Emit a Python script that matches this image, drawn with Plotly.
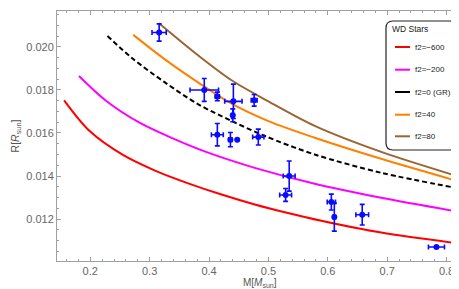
import plotly.graph_objects as go

# ---------------- data ----------------
# observed white dwarfs
obs_M = [0.316, 0.392, 0.414, 0.441, 0.440, 0.476, 0.414, 0.436, 0.4475, 0.483,
         0.535, 0.529, 0.606, 0.611, 0.658, 0.783]
obs_R = [0.02067, 0.0180, 0.0177, 0.01747, 0.01682, 0.01752, 0.01592, 0.01569, 0.01569, 0.01581,
         0.0140, 0.01312, 0.01279, 0.01209, 0.0122, 0.0107]
obs_dM = [0.012, 0.024, 0.0035, 0.0146, 0.002, 0.005, 0.010, 0.003, 0.0, 0.0095,
          0.010, 0.010, 0.007, 0.002, 0.0107, 0.0135]
obs_dR = [0.0004, 0.00053, 0.0002, 0.0008, 0.0003, 0.00027, 0.00052, 0.00033, 0.0, 0.00037,
          0.0007, 0.0003, 0.00037, 0.00065, 0.00048, 0.00003]

# theoretical mass-radius curves
m600 = [0.156, 0.199, 0.255, 0.311, 0.365, 0.421, 0.477, 0.533, 0.589, 0.690, 0.811]
r600 = [0.01752, 0.01609, 0.01498, 0.01423, 0.01366, 0.01314, 0.01268, 0.01228, 0.01192, 0.01137, 0.0109]
m200 = [0.181, 0.227, 0.283, 0.339, 0.395, 0.477, 0.578, 0.690, 0.814]
r200 = [0.01865, 0.01749, 0.01648, 0.01575, 0.01512, 0.01438, 0.01364, 0.01299, 0.01237]
mGR = [0.229, 0.2695, 0.3257, 0.382, 0.438, 0.494, 0.578, 0.690, 0.814]
rGR = [0.02051, 0.0195, 0.01835, 0.01733, 0.01656, 0.01586, 0.0150, 0.01415, 0.01346]
m40 = [0.2724, 0.3257, 0.382, 0.438, 0.500, 0.578, 0.690, 0.814]
r40 = [0.02056, 0.01942, 0.01834, 0.01736, 0.01655, 0.01578, 0.0148, 0.0138]
m80 = [0.3157, 0.382, 0.438, 0.500, 0.578, 0.690, 0.814]
r80 = [0.0211, 0.01960, 0.01845, 0.01747, 0.01633, 0.01512, 0.01403]

curve_names = ["f2=\u2212600", "f2=\u2212200", "f2=0 (GR)", "f2=40", "f2=80"]
curve_colors = ["#ff0000", "#ff00ff", "#000000", "#ff8000", "#996633"]
curve_dash = ["solid", "solid", "5px,3px", "solid", "solid"]
curves = [(m600, r600), (m200, r200), (mGR, rGR), (m40, r40), (m80, r80)]
legend_title = "WD Stars"
x_title = "M[<i>M</i><sub>sun</sub>]"
y_title = "R[<i>R</i><sub>sun</sub>]"

x_ticks = [0.2, 0.3, 0.4, 0.5, 0.6, 0.7, 0.8]
y_ticks = [0.012, 0.014, 0.016, 0.018, 0.020]

# ---------------- figure ----------------
W, H = 459, 289
ML, MR, MT, MB = 49, 5, 3, 36
PW, PH = W - ML - MR, H - MT - MB

def px2paper(px, py):
    return (px - ML) / PW, 1 - (py - MT) / PH

fig = go.Figure()
for (m, r), name, col, dash in zip(curves, curve_names, curve_colors, curve_dash):
    fig.add_trace(go.Scatter(x=m, y=r, mode="lines", name=name,
                             line=dict(color=col, width=2, dash=dash, shape="spline", smoothing=0.9),
                             showlegend=False))

fig.add_trace(go.Scatter(
    x=obs_M, y=obs_R, mode="markers", name="WD",
    marker=dict(color="#0a0aff", size=6),
    error_x=dict(type="data", array=obs_dM, color="#0a0aff", thickness=1.6, width=2.5),
    error_y=dict(type="data", array=obs_dR, color="#0a0aff", thickness=1.6, width=2.5),
    showlegend=False))

# legend drawn as a rounded box
bx0, by0 = px2paper(378, 13)
bx1, by1 = px2paper(449, 142)
rx, ry = 7 / PW, 7 / PH
path = (f"M{bx0+rx},{by0} L{bx1-rx},{by0} Q{bx1},{by0} {bx1},{by0-ry} "
        f"L{bx1},{by1+ry} Q{bx1},{by1} {bx1-rx},{by1} "
        f"L{bx0+rx},{by1} Q{bx0},{by1} {bx0},{by1+ry} "
        f"L{bx0},{by0-ry} Q{bx0},{by0} {bx0+rx},{by0} Z")
shapes = [dict(type="path", xref="paper", yref="paper", path=path,
               line=dict(color="#222", width=1.2), fillcolor="white", layer="above")]
annotations = []
tx, ty = px2paper(382, 21)
annotations.append(dict(xref="paper", yref="paper", x=tx, y=ty, text=legend_title,
                        showarrow=False, xanchor="left", yanchor="middle",
                        font=dict(size=8.5, color="#222")))
entry_y = [39, 61.7, 84, 106.7, 128.3]
for name, col, dash, ey in zip(curve_names, curve_colors, curve_dash, entry_y):
    lx0, ly = px2paper(387, ey)
    lx1, _ = px2paper(402, ey)
    shapes.append(dict(type="line", xref="paper", yref="paper", x0=lx0, x1=lx1, y0=ly, y1=ly,
                       line=dict(color=col, width=2), layer="above"))
    txx, _ = px2paper(405, ey)
    annotations.append(dict(xref="paper", yref="paper", x=txx, y=ly, text=name,
                            showarrow=False, xanchor="left", yanchor="middle",
                            font=dict(size=8, color="#222")))

# x axis title placed explicitly
_, xty = px2paper(252, 266.5)
annotations.append(dict(xref="paper", yref="paper", x=0.5, y=xty, text=x_title,
                        showarrow=False, xanchor="center", yanchor="top",
                        font=dict(size=10, color="#555")))

axis_common = dict(showline=True, linecolor="#a0a0a0", linewidth=1, mirror="allticks",
                   ticks="inside", ticklen=4, tickcolor="#a0a0a0", showgrid=False, zeroline=False,
                   tickfont=dict(size=11, color="#666", family="Liberation Sans"))

fig.update_layout(
    width=W, height=H, margin=dict(l=ML, r=MR, t=MT, b=MB),
    paper_bgcolor="white", plot_bgcolor="white",
    font=dict(family="Liberation Sans", color="#555"),
    shapes=shapes, annotations=annotations,
    xaxis=dict(range=[0.144, 0.826], tickvals=x_ticks, ticktext=[f"{v:.1f}" for v in x_ticks],
               minor=dict(dtick=0.02, tick0=0.2, ticks="inside", ticklen=2, tickcolor="#a0a0a0"),
               **axis_common),
    yaxis=dict(range=[0.01005, 0.02167], tickvals=y_ticks, ticktext=[f"{v:.3f}" for v in y_ticks],
               minor=dict(dtick=0.0005, tick0=0.012, ticks="inside", ticklen=2, tickcolor="#a0a0a0"),
               title=dict(text=y_title, font=dict(size=10.5, color="#555"), standoff=4),
               **axis_common),
)

fig.write_html("out.html")
